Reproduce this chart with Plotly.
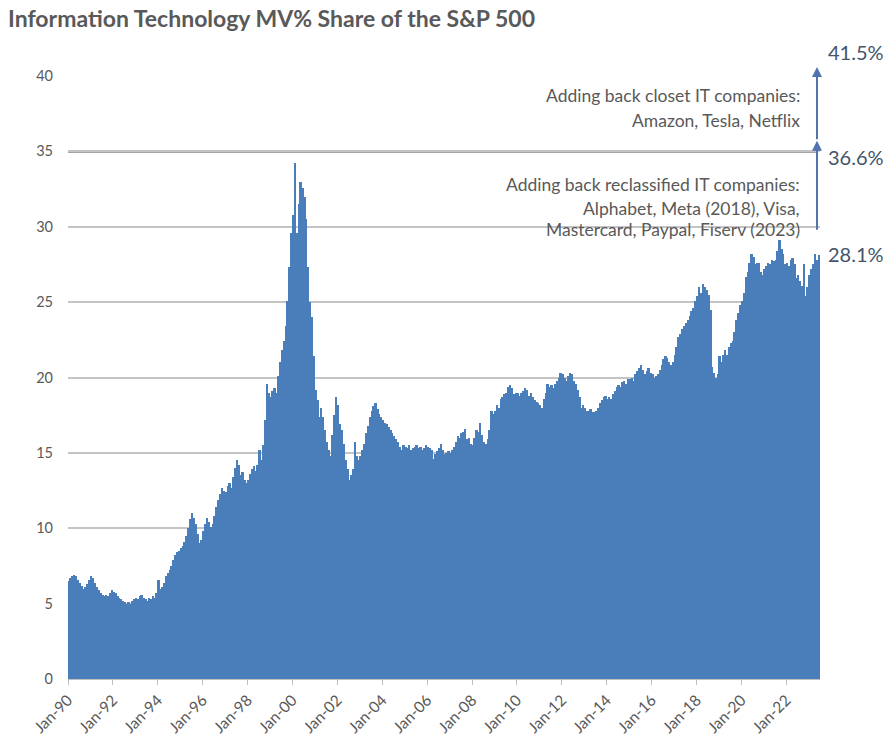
import plotly.graph_objects as go
import numpy as np

# Monthly IT share of S&P 500 market value (%), Jan-1990 .. Jun-2023
it_share_pct = [
    6.5, 6.7, 6.8, 6.9, 6.8, 6.6, 6.4, 6.2, 6.0, 6.1, 6.3, 6.6,          # 1990
    6.8, 6.7, 6.4, 6.1, 5.9, 5.7, 5.6, 5.5, 5.6, 5.5, 5.7, 5.9,          # 1991
    5.8, 5.7, 5.5, 5.4, 5.3, 5.2, 5.1, 5.0, 5.1, 5.0, 5.2, 5.3,          # 1992
    5.4, 5.3, 5.5, 5.6, 5.4, 5.3, 5.2, 5.4, 5.3, 5.5, 5.4, 5.7,          # 1993
    6.6, 6.0, 6.1, 6.4, 6.8, 7.0, 7.2, 7.5, 7.9, 8.2, 8.4, 8.5,          # 1994
    8.7, 8.8, 9.1, 9.5, 10.0, 10.6, 11.0, 10.7, 10.3, 9.6, 9.0, 9.2,     # 1995
    9.8, 10.3, 10.7, 10.4, 10.1, 10.3, 10.8, 11.4, 11.9, 12.3, 12.7, 12.5,  # 1996
    12.4, 12.8, 13.0, 12.7, 13.4, 14.0, 14.5, 14.2, 13.5, 13.7, 13.2, 13.0,  # 1997
    13.2, 13.6, 13.9, 14.1, 13.8, 14.2, 15.2, 14.5, 15.5, 17.2, 19.6, 19.0,  # 1998
    18.7, 19.1, 19.3, 19.0, 20.1, 21.0, 21.8, 22.4, 23.4, 25.1, 27.3, 29.6,  # 1999
    30.8, 34.2, 29.6, 31.5, 33.0, 32.6, 32.0, 30.5, 27.3, 25.0, 24.0, 21.4,  # 2000
    19.2, 18.5, 17.4, 18.0, 17.4, 16.5, 15.7, 15.2, 14.8, 16.2, 17.5, 18.7,  # 2001
    18.2, 16.9, 16.5, 15.6, 14.5, 13.9, 13.2, 13.5, 13.9, 15.7, 14.8, 14.5,  # 2002
    14.8, 15.2, 15.6, 16.3, 16.8, 17.4, 17.8, 18.1, 18.3, 17.9, 17.6, 17.4,  # 2003
    17.2, 17.0, 16.9, 16.7, 16.5, 16.3, 16.1, 15.9, 15.7, 15.4, 15.2, 15.5,  # 2004
    15.4, 15.3, 15.5, 15.2, 15.3, 15.4, 15.5, 15.3, 15.4, 15.2, 15.3, 15.5,  # 2005
    15.4, 15.3, 15.2, 14.6, 14.9, 15.1, 15.3, 15.6, 15.2, 14.9, 15.0, 15.1,  # 2006
    15.0, 15.2, 15.4, 15.7, 16.1, 16.0, 16.3, 16.4, 16.6, 15.9, 16.0, 15.6,  # 2007
    15.5, 16.0, 16.5, 16.4, 17.0, 16.2, 15.7, 15.6, 15.9, 16.5, 17.8, 17.6,  # 2008
    17.8, 18.2, 18.0, 18.6, 18.7, 18.9, 19.0, 19.4, 19.5, 19.3, 18.9, 19.0,  # 2009
    19.0, 18.8, 19.0, 19.1, 19.3, 19.2, 18.8, 19.0, 18.7, 18.5, 18.4, 18.3,  # 2010
    18.2, 18.0, 18.6, 19.0, 19.6, 19.4, 19.5, 19.3, 19.6, 19.8, 20.0, 20.3,  # 2011
    20.2, 20.0, 19.8, 20.1, 20.3, 20.2, 19.8, 19.6, 19.2, 18.7, 18.0, 18.2,  # 2012
    18.0, 17.8, 17.8, 17.9, 17.7, 17.7, 17.8, 18.0, 18.3, 18.5, 18.7, 18.8,  # 2013
    18.6, 18.7, 18.6, 18.9, 19.1, 19.4, 19.5, 19.4, 19.7, 19.8, 19.6, 19.9,  # 2014
    19.9, 20.0, 19.8, 20.2, 20.4, 20.6, 20.8, 20.5, 20.2, 20.4, 20.6, 20.3,  # 2015
    20.2, 20.0, 20.1, 20.2, 20.5, 20.8, 21.2, 21.4, 21.3, 21.0, 20.8, 21.0,  # 2016
    21.5, 22.0, 22.7, 22.9, 23.2, 23.4, 23.6, 23.8, 24.1, 24.4, 24.6, 25.1,  # 2017
    25.4, 26.0, 25.6, 26.2, 26.0, 25.8, 25.5, 24.5, 20.7, 20.3, 20.0, 20.2,  # 2018
    21.4, 21.0, 21.5, 21.8, 21.5, 22.0, 22.3, 22.4, 23.0, 23.8, 24.3, 24.8,  # 2019
    25.1, 25.6, 26.7, 27.0, 27.6, 28.2, 28.0, 27.5, 27.6, 27.6, 27.0, 26.8,  # 2020
    27.2, 27.4, 27.6, 27.5, 27.8, 27.7, 27.8, 28.4, 29.1, 28.5, 28.2, 27.5,  # 2021
    27.6, 27.4, 27.8, 27.9, 27.5, 26.6, 26.8, 26.4, 26.1, 27.5, 25.4, 26.0,  # 2022
    26.8, 27.2, 27.5, 28.2, 27.8, 28.1,                                      # 2023
]

tick_labels = ["Jan-90", "Jan-92", "Jan-94", "Jan-96", "Jan-98", "Jan-00", "Jan-02",
               "Jan-04", "Jan-06", "Jan-08", "Jan-10", "Jan-12", "Jan-14", "Jan-16",
               "Jan-18", "Jan-20", "Jan-22"]
tick_months = [24 * i for i in range(len(tick_labels))]

current_pct = 28.1
reclass_pct = 36.6
closet_pct = 41.5

n = len(it_share_pct)
x = np.arange(n) + 0.5

GRAY = "#595959"
LABEL = "#44546a"
ARROW = "#5273ad"
FONT = "Lato"

fig = go.Figure()
fig.add_trace(go.Bar(x=x, y=it_share_pct, marker=dict(color="#4a7ebb", line=dict(width=0)),
                     width=1.0, hoverinfo="y"))

fig.update_layout(
    width=889, height=742,
    margin=dict(l=68, r=69, t=76, b=63, autoexpand=False),
    plot_bgcolor="white", paper_bgcolor="white",
    bargap=0, showlegend=False,
    font=dict(family=FONT, color=GRAY, size=14),
    title=dict(text="<b>Information Technology MV% Share of the S&P 500</b>",
               x=0.009, xanchor="left", xref="container",
               y=1 - 19 / 742, yanchor="middle", yref="container",
               font=dict(family=FONT, size=23, color=GRAY)),
)

fig.update_xaxes(range=[0, 402], tickvals=tick_months, ticktext=tick_labels,
                 tickangle=-45, showgrid=False, showline=True, linecolor="#bfbfbf",
                 linewidth=1, ticks="outside", ticklen=5, tickcolor="#bfbfbf",
                 tickfont=dict(size=15.5, color=GRAY), zeroline=False, automargin=False)
fig.update_yaxes(range=[0, 40], dtick=5, showgrid=True, gridcolor="#c4c4c4", gridwidth=2,
                 zeroline=False, showline=False, ticks="", ticklabelstandoff=14,
                 tickfont=dict(size=14.5, color=GRAY), automargin=False)

# darker line at 35
fig.add_shape(type="line", xref="paper", yref="y", x0=0, x1=0.996, y0=35, y1=35,
              line=dict(color="#a6a6a6", width=3), layer="below")

# arrows
fig.add_annotation(x=0.996, xref="paper", y=35.7 / 40, yref="paper",
                   ax=0, ay=(35.7 - 29.7) * 603 / 40, showarrow=True, arrowhead=2,
                   arrowsize=1, arrowwidth=2, arrowcolor=ARROW, text="")
fig.add_annotation(x=0.996, xref="paper", y=40.6 / 40, yref="paper",
                   ax=0, ay=(40.6 - 35.7) * 603 / 40, showarrow=True, arrowhead=2,
                   arrowsize=1, arrowwidth=2, arrowcolor=ARROW, text="")

# value labels
for val, py in [(closet_pct, 52), (reclass_pct, 157), (current_pct, 254)]:
    fig.add_annotation(x=1.008, xref="paper", y=(679 - py) / 603, yref="paper",
                       xanchor="left", yanchor="middle", showarrow=False,
                       text=f"{val:.1f}%", font=dict(size=20, color=LABEL, family=FONT))

# explanatory text
lines = [("Adding back closet IT companies:", 96),
         ("Amazon, Tesla, Netflix", 120),
         ("Adding back reclassified IT companies:", 185),
         ("Alphabet, Meta (2018), Visa,", 208),
         ("Mastercard, Paypal, Fiserv (2023)", 230)]
for txt, py in lines:
    fig.add_annotation(x=0.976, xref="paper", y=(679 - py) / 603, yref="paper",
                       xanchor="right", yanchor="middle", showarrow=False,
                       text=txt, font=dict(size=17.5, color=GRAY, family=FONT))

fig.write_html("out.html")
